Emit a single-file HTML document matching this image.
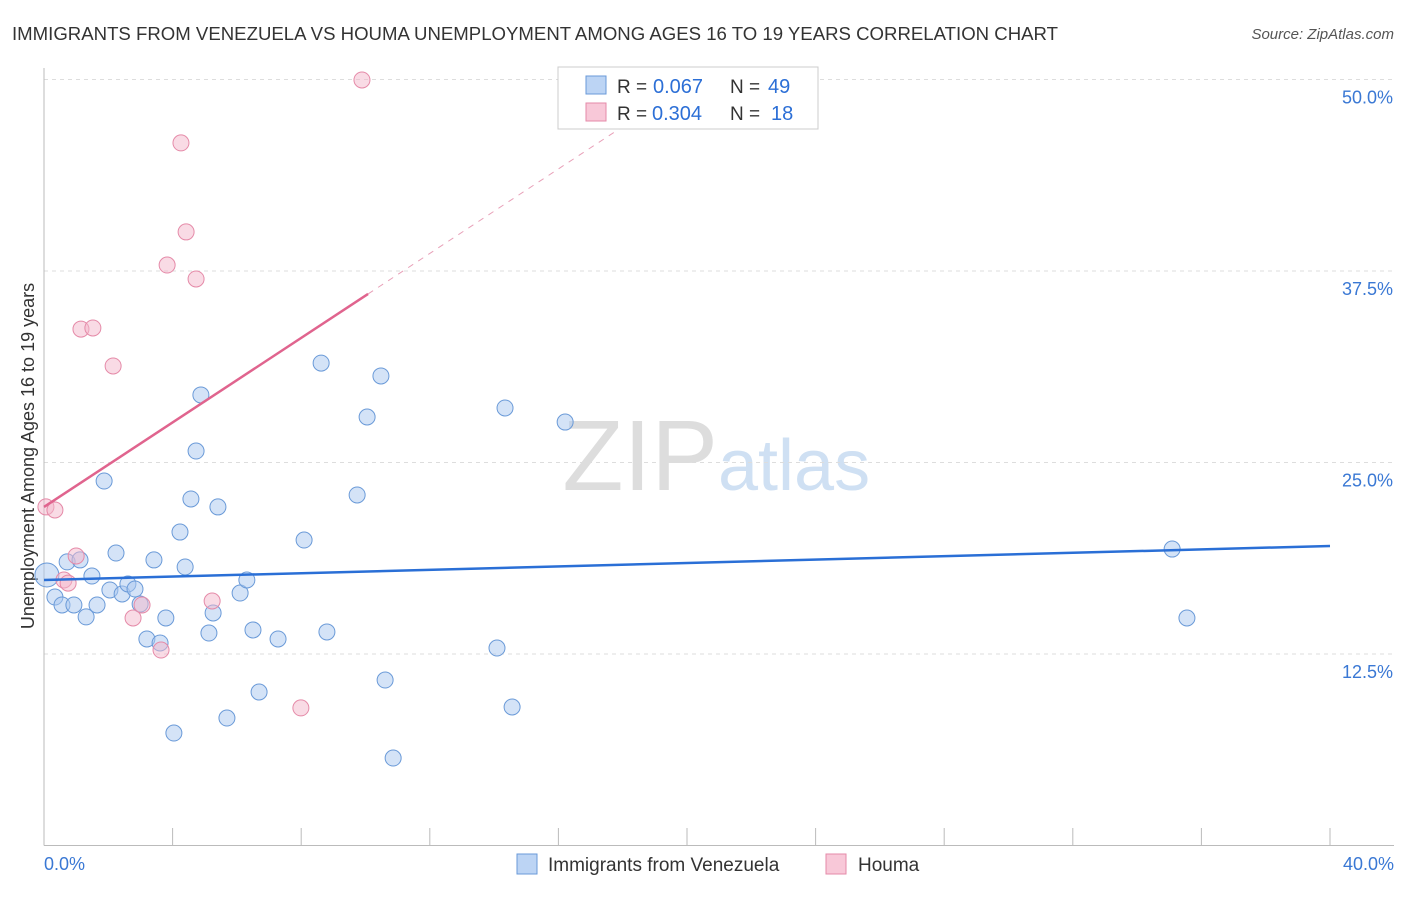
<!DOCTYPE html>
<html><head><meta charset="utf-8"><style>
body{margin:0;background:#fff;font-family:"Liberation Sans",sans-serif;}
svg text{font-family:"Liberation Sans",sans-serif;}
</style></head><body>
<svg id="chart" width="1406" height="892">
<text x="12" y="40" font-size="18" fill="#333" textLength="1046" lengthAdjust="spacingAndGlyphs">IMMIGRANTS FROM VENEZUELA VS HOUMA UNEMPLOYMENT AMONG AGES 16 TO 19 YEARS CORRELATION CHART</text>
<text x="1394" y="39" font-size="15" fill="#555" font-style="italic" text-anchor="end">Source: ZipAtlas.com</text>
<text x="718" y="490" font-size="100" fill="#ddd" text-anchor="end" font-family="Liberation Serif">ZIP</text>
<text x="718" y="490" font-size="72" fill="#cfe0f3">atlas</text>
<text transform="translate(34,456) rotate(-90)" font-size="18" fill="#333" text-anchor="middle">Unemployment Among Ages 16 to 19 years</text>
<g id="grid"></g><g id="marks"></g>
<g>
<rect x="558" y="67" width="260" height="62" fill="#fff" stroke="#ccc"/>
<rect x="586" y="76" width="20" height="18" fill="#bcd4f4" stroke="#6a9ad8"/>
<text x="617" y="93" font-size="19" fill="#333">R =</text>
<text x="653" y="93" font-size="20" fill="#2c6fd6">0.067</text>
<text x="730" y="93" font-size="19" fill="#333">N =</text>
<text x="768" y="93" font-size="20" fill="#2c6fd6">49</text>
<rect x="586" y="103" width="20" height="18" fill="#f8c8d8" stroke="#e58aa8"/>
<text x="617" y="120" font-size="19" fill="#333">R =</text>
<text x="652" y="120" font-size="20" fill="#2c6fd6">0.304</text>
<text x="730" y="120" font-size="19" fill="#333">N =</text>
<text x="771" y="120" font-size="20" fill="#2c6fd6">18</text>
</g>
<g>
<rect x="517" y="854" width="20" height="20" fill="#bcd4f4" stroke="#6a9ad8"/>
<text x="548" y="871" font-size="19" fill="#333">Immigrants from Venezuela</text>
<rect x="826" y="854" width="20" height="20" fill="#f8c8d8" stroke="#e58aa8"/>
<text x="858" y="871" font-size="19" fill="#333">Houma</text>
</g>
</svg>
<script>
const blueX=[0.09,0.34,0.56,0.72,0.93,1.12,1.31,1.49,1.65,1.87,2.05,2.24,2.43,2.61,2.83,2.99,3.20,3.42,3.61,3.79,4.04,4.23,4.39,4.57,4.73,4.88,5.13,5.26,5.41,5.69,6.10,6.31,6.50,6.69,7.28,8.09,8.62,8.80,9.74,10.05,10.48,10.61,10.86,14.09,14.34,14.56,16.21,35.09,35.55];
const blueY=[17.66,16.22,15.70,18.51,15.70,18.64,14.92,17.59,15.70,23.79,16.68,19.09,16.42,17.07,16.74,15.76,13.48,18.64,13.22,14.85,7.34,20.46,18.18,22.62,25.75,29.41,13.87,15.18,22.10,8.32,16.48,17.33,14.07,10.02,13.48,19.94,31.49,13.94,22.88,27.97,30.65,10.80,5.71,12.89,28.56,9.04,27.64,19.35,14.85];
const pinkX=[0.06,0.34,0.62,0.75,1.00,1.15,1.52,2.15,2.77,3.05,3.64,3.83,4.26,4.42,4.73,5.23,7.99,9.89];
const pinkY=[22.10,21.90,17.33,17.13,18.90,33.71,33.78,31.30,14.85,15.70,12.76,37.89,45.86,40.05,36.98,15.96,8.98,49.97];
const blueTrend=[17.33,19.55];
const pinkTrend=[22.10,36.0];
const yTicks=[12.5,25.0,37.5,50.0];
const xTicks=[0,4,8,12,16,20,24,28,32,36,40];
const NS="http://www.w3.org/2000/svg";
const sx=v=>44+v*32.15, sy=v=>845.5-v*15.32;
const grid=document.getElementById('grid'), marks=document.getElementById('marks');
function mk(p,tag,a){const e=document.createElementNS(NS,tag);for(const k in a)e.setAttribute(k,a[k]);p.appendChild(e);return e;}
yTicks.forEach(t=>{
 const l=mk(grid,'line',{x1:44,x2:1394,y1:sy(t),y2:sy(t),stroke:'#ddd','stroke-dasharray':'4,4'});
 
 
 const tx=mk(grid,'text',{x:1393,y:sy(t)+24,'font-size':18,fill:'#3a78d4','text-anchor':'end'});
 tx.textContent=t.toFixed(1)+'%';
 
 
});
const ax=mk(grid,'line',{x1:44,x2:1394,y1:845.5,y2:845.5,stroke:'#bbb'});


const ay=mk(grid,'line',{x1:44,x2:44,y1:68,y2:845.5,stroke:'#bbb'});


xTicks.forEach(t=>{
 const l=mk(grid,'line',{x1:sx(t),x2:sx(t),y1:828,y2:845,stroke:'#bbb'});
 
 
});
[[0,'0.0%','start'],[40,'40.0%','end']].forEach(([v,s,a])=>{
 const tx=mk(grid,'text',{x:a==='start'?sx(v):1394,y:870,'font-size':18,fill:'#3a78d4','text-anchor':a});
 tx.textContent=s;
 
 
});
function dots(X,Y,fill,stroke,name,big){X.forEach((x,i)=>{
 const c=mk(marks,'circle',{cx:sx(x),cy:sy(Y[i]),r:(big&&i===0)?12:8,fill:fill,'fill-opacity':0.5,stroke:stroke,'stroke-width':1});
 
 
});}
dots(blueX,blueY,'#a9c8f0','#6a9ad8','venezuela-point',true);
dots(pinkX,pinkY,'#f4b8cc','#e58aa8','houma-point',false);
const bl=mk(marks,'line',{x1:sx(0),y1:sy(blueTrend[0]),x2:sx(40),y2:sy(blueTrend[1]),stroke:'#2a6fd6','stroke-width':2.5});


const slope=(pinkTrend[1]-pinkTrend[0])/10.08;
const pl=mk(marks,'line',{x1:sx(0),y1:sy(pinkTrend[0]),x2:sx(10.08),y2:sy(pinkTrend[1]),stroke:'#e0648e','stroke-width':2.5});


const pd=mk(marks,'line',{x1:sx(10.08),y1:sy(pinkTrend[1]),x2:sx(19.5),y2:sy(pinkTrend[0]+slope*19.5),stroke:'#e8a0b8','stroke-width':1,'stroke-dasharray':'6,6'});


</script>
</body></html>
